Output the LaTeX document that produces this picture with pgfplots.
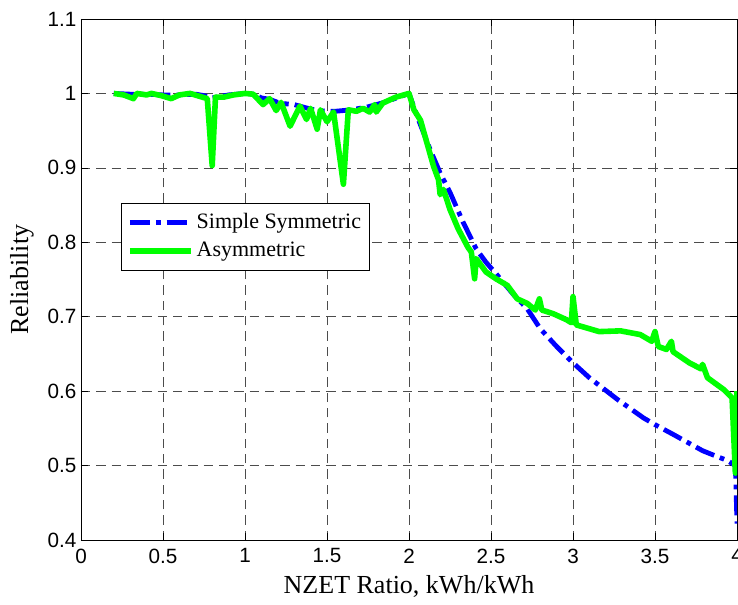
\documentclass[border=0pt]{standalone}
\usepackage{fontspec}
\setmainfont{Liberation Serif}
\newfontfamily\arial{Liberation Sans}
\usepackage{pgfplots}
\pgfplotsset{compat=1.18}

\begin{document}
\begin{tikzpicture}
\begin{axis}[
  scale only axis, width=492pt, height=390.75pt,
  xmin=0, xmax=4, ymin=0.4, ymax=1.1,
  xtick={0,0.5,1,1.5,2,2.5,3,3.5,4},
  ytick={0.4,0.5,0.6,0.7,0.8,0.9,1,1.1},
  /pgf/number format/assume math mode=true,
  tick label style={font=\arial\fontsize{15.5}{15.5}\selectfont},
  xticklabel style={yshift=-3pt},
  tick align=inside, major tick length=5pt,
  tick style={black, line width=0.5pt},
  xmajorgrids, ymajorgrids,
  grid style={dash pattern=on 7pt off 4.5pt, black!70, line width=0.5pt},
  axis line style={line width=0.6pt},
  xlabel={NZET Ratio, kWh/kWh}, ylabel={Reliability},
  label style={font=\fontsize{19.5}{20}\selectfont},
  xlabel style={at={(axis description cs:0.5,-0.103)}, anchor=base},
  ylabel style={at={(axis description cs:-0.09,0.5)}, anchor=center},
  legend cell align=left,
  legend style={at={(axis description cs:0.0605,0.646)}, anchor=north west,
    draw=black, line width=0.6pt, fill=white, inner sep=4.5pt,
    font=\fontsize{16.5}{18}\selectfont, row sep=1.8pt,
    nodes={inner sep=2pt, text height=12pt, text depth=3.5pt, anchor=west}},
  legend image code/.code={\draw[#1] (0pt,0pt) -- (46pt,0pt);},
]
\addplot[color={rgb,1:red,0;green,0;blue,1}, line width=3.6pt, line cap=butt, line join=round,
  dash pattern=on 15pt off 4.5pt on 3.5pt off 4.5pt] coordinates {
(0.2,1.0) (0.3,0.999) (0.4,0.999) (0.5,0.998) (0.6,0.998) (0.7,0.999) (0.75,0.997)
(0.8,0.994) (0.85,0.996) (0.9,0.998) (1.0,1.0) (1.05,0.999) (1.1,0.994) (1.15,0.992)
(1.2,0.988) (1.25,0.986) (1.3,0.985) (1.35,0.982) (1.4,0.979) (1.45,0.977) (1.5,0.976)
(1.55,0.976) (1.6,0.977) (1.65,0.978) (1.7,0.980) (1.75,0.982) (1.8,0.985) (1.85,0.988)
(1.9,0.992) (1.95,0.996) (2.0,1.0) (2.05,0.969) (2.13,0.924) (2.19,0.893) (2.25,0.867)
(2.33,0.827) (2.41,0.791) (2.47,0.773) (2.53,0.758) (2.64,0.729) (2.72,0.711) (2.80,0.684)
(2.9,0.66) (3.0,0.638) (3.10,0.618) (3.27,0.589) (3.43,0.564) (3.5,0.555) (3.61,0.542)
(3.7,0.531) (3.79,0.52) (3.88,0.512) (3.94,0.507) (3.99,0.500) (4.0,0.422)
};
\addlegendentry{Simple Symmetric}
\addplot[color={rgb,1:red,0;green,1;blue,0}, line width=4.2pt, line join=round] coordinates {
(0.2,1.0) (0.26,0.998) (0.32,0.993) (0.34,1.0) (0.40,0.998) (0.43,1.0) (0.49,0.997)
(0.55,0.993) (0.60,0.998) (0.665,1.0) (0.725,0.996) (0.77,0.993) (0.80,0.903) (0.82,0.995)
(0.87,0.995) (0.93,0.998) (1.0,1.0) (1.05,0.999) (1.11,0.985) (1.15,0.993) (1.19,0.977)
(1.22,0.988) (1.275,0.956) (1.335,0.983) (1.375,0.965) (1.40,0.98) (1.44,0.952) (1.46,0.978)
(1.50,0.962) (1.54,0.975) (1.60,0.878) (1.63,0.978) (1.68,0.976) (1.72,0.98) (1.76,0.975)
(1.79,0.985) (1.80,0.975) (1.84,0.987) (1.92,0.995) (2.0,1.0) (2.03,0.978) (2.07,0.964)
(2.11,0.933) (2.15,0.902) (2.18,0.884) (2.19,0.864) (2.21,0.871) (2.25,0.844) (2.30,0.818)
(2.36,0.793) (2.38,0.787) (2.40,0.751) (2.41,0.778) (2.47,0.76) (2.53,0.751) (2.60,0.742)
(2.66,0.724) (2.72,0.718) (2.77,0.709) (2.795,0.724) (2.81,0.709) (2.88,0.704) (2.96,0.696)
(2.99,0.692) (3.0,0.727) (3.02,0.689) (3.16,0.68) (3.29,0.681) (3.41,0.676) (3.48,0.667)
(3.50,0.68) (3.52,0.66) (3.57,0.656) (3.60,0.667) (3.61,0.653) (3.71,0.638) (3.78,0.63)
(3.79,0.636) (3.82,0.618) (3.92,0.602) (3.97,0.591) (3.99,0.49) (4.0,0.60)
};
\addlegendentry{Asymmetric}
\end{axis}
\pgfresetboundingbox
\path ([shift={(-60.75pt,-48pt)}]current axis.south west) rectangle ([shift={(0.75pt,14.25pt)}]current axis.north east);
\end{tikzpicture}
\end{document}
